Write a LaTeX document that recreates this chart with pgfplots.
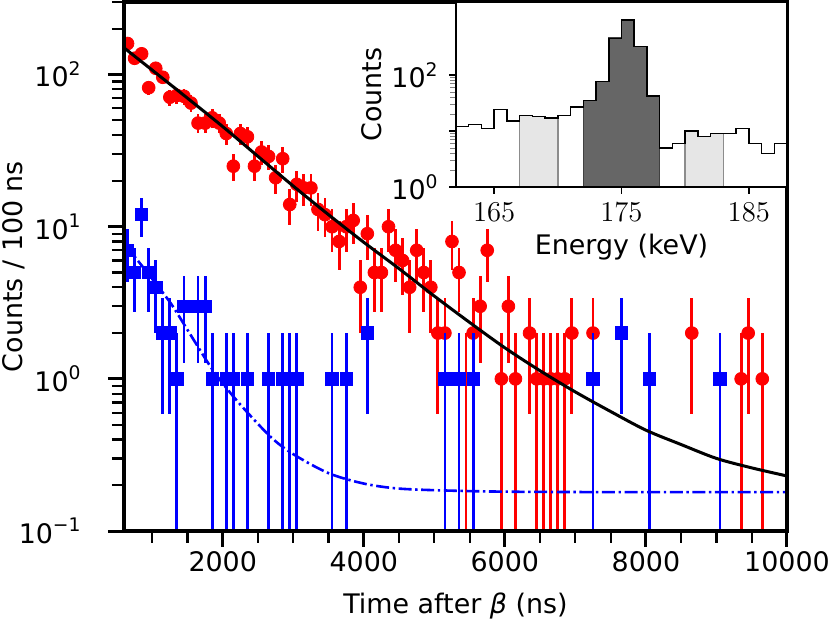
\documentclass[border=0pt]{standalone}
\usepackage{fontspec}
\setmainfont{DejaVu Sans}
\usepackage{pgfplots}
\pgfplotsset{compat=1.18}
\newcommand{\tp}[1]{10\raisebox{0.42em}{\fontsize{9.4}{10}\selectfont #1}}
\newcommand{\lf}{\fontsize{13.5}{16}\selectfont}
\definecolor{lightfill}{HTML}{E6E6E6}
\definecolor{lightedge}{HTML}{8C8C8C}
\definecolor{darkfill}{HTML}{666666}
\definecolor{darkedge}{HTML}{404040}
\begin{document}
\lf
\begin{tikzpicture}
\begin{axis}[
  at={(0,0)}, anchor=south west,
  scale only axis, width=331.5bp, height=264.5bp,
  xmin=600, xmax=10000, ymode=log, ymin=0.1, ymax=300,
  axis line style={line width=1.6bp},
  axis on top, clip marker paths=true,
  scaled x ticks=false,
  xtick={2000,4000,6000,8000,10000},
  xticklabels={2000,4000,6000,8000,10000},
  minor xtick={1000,1500,2500,3000,3500,4500,5000,5500,6500,7000,7500,8500,9000,9500},
  ytick={0.1,1,10,100},
  yticklabels={\tp{−1},\tp{0},\tp{1},\tp{2}},
  minor ytick={0.2,0.3,0.4,0.5,0.6,0.7,0.8,0.9,2,3,4,5,6,7,8,9,20,30,40,50,60,70,80,90,200,300},
  xtick pos=bottom, ytick pos=left,
  tick align=outside,
  major tick length=8bp, minor tick length=6bp,
  every major tick/.style={line width=1.5bp, black},
  every minor tick/.style={line width=1.1bp, black},
  tick label style={font=\lf},
  xticklabel style={anchor=north, inner sep=0pt, yshift=-2bp},
  yticklabel style={anchor=east, inner sep=0pt, xshift=-13.5bp},
]
% red data
\addplot[red, only marks, mark=*, mark size=3.2bp, mark options={fill=red, draw=red},
  error bars/.cd, y dir=both, y explicit, error mark=none,
  error bar style={line width=1.4bp, red}]
table[x=x, y=y, y error plus=ep, y error minus=em] {
x y ep em
650 160 12.65 12.65
750 128 11.31 11.31
850 137 11.70 11.70
950 82 9.06 9.06
1050 110 10.49 10.49
1150 96 9.80 9.80
1250 71 8.43 8.43
1350 73 8.54 8.54
1450 72 8.49 8.49
1550 65 8.06 8.06
1650 48 6.93 6.93
1750 48 6.93 6.93
1850 52 7.21 7.21
1950 48 6.93 6.93
2050 41 6.40 6.40
2150 25 5.00 5.00
2250 41 6.40 6.40
2350 39 6.24 6.24
2450 25 5.00 5.00
2550 31 5.57 5.57
2650 29 5.39 5.39
2750 21 4.58 4.58
2850 28 5.29 5.29
2950 14 3.74 3.74
3050 19 4.36 4.36
3150 18 4.24 4.24
3250 18 4.24 4.24
3350 13 3.61 3.61
3450 12 3.46 3.46
3550 10 3.16 3.16
3650 8 2.83 2.83
3750 10 3.16 3.16
3850 11 3.32 3.32
3950 4 2.00 2.00
4050 9 3.00 3.00
4150 5 2.24 2.24
4250 5 2.24 2.24
4350 10 3.16 3.16
4450 7 2.65 2.65
4550 6 2.45 2.45
4650 4 2.00 2.00
4750 7 2.65 2.65
4850 5 2.24 2.24
4950 4 2.00 2.00
5050 2 1.41 1.41
5150 2 1.41 1.41
5250 8 2.83 2.83
5350 5 2.24 2.24
5450 1 1.00 0.999
5550 2 1.41 1.41
5650 3 1.73 1.73
5750 7 2.65 2.65
5950 1 1.00 0.999
6050 3 1.73 1.73
6150 1 1.00 0.999
6350 2 1.41 1.41
6450 1 1.00 0.999
6550 1 1.00 0.999
6650 1 1.00 0.999
6750 1 1.00 0.999
6850 1 1.00 0.999
6950 2 1.41 1.41
7250 2 1.41 1.41
8650 2 1.41 1.41
9350 1 1.00 0.999
9450 2 1.41 1.41
9650 1 1.00 0.999
};
% blue data
\addplot[blue, only marks, mark=square*, mark size=3.1bp, mark options={fill=blue, draw=blue},
  error bars/.cd, y dir=both, y explicit, error mark=none,
  error bar style={line width=1.4bp, blue}]
table[x=x, y=y, y error plus=ep, y error minus=em] {
x y ep em
650 7 2.65 2.65
750 5 2.24 2.24
850 12 3.46 3.46
950 5 2.24 2.24
1050 4 2.00 2.00
1150 2 1.41 1.41
1250 2 1.41 1.41
1350 1 1.00 0.999
1450 3 1.73 1.73
1650 3 1.73 1.73
1750 3 1.73 1.73
1850 1 1.00 0.999
2050 1 1.00 0.999
2150 1 1.00 0.999
2350 1 1.00 0.999
2650 1 1.00 0.999
2850 1 1.00 0.999
2950 1 1.00 0.999
3050 1 1.00 0.999
3550 1 1.00 0.999
3750 1 1.00 0.999
4050 2 1.41 1.41
5150 1 1.00 0.999
5350 1 1.00 0.999
5550 1 1.00 0.999
7250 1 1.00 0.999
7650 2 1.41 1.41
8050 1 1.00 0.999
9050 1 1.00 0.999
};
% black fit
\addplot[black, line width=1.5bp, smooth] coordinates {
(600,150) (1000,107) (1500,70) (2000,45.5) (2500,29) (3000,18.5) (3500,12.0) (4000,7.9)
(4500,5.3) (5000,3.5) (5500,2.35) (6000,1.6) (6500,1.13) (7000,0.82) (7500,0.61)
(8000,0.46) (8500,0.37) (9000,0.30) (9500,0.26) (10000,0.23)};
% blue fit
\addplot[blue, line width=1.3bp, smooth, dash pattern=on 6.5bp off 1.8bp on 1.2bp off 1.8bp] coordinates {
(600,7.8) (900,5.2) (1250,3.2) (1500,2.1) (1866,1.13) (2200,0.72) (2669,0.42) (3000,0.32)
(3500,0.24) (4000,0.205) (4500,0.19) (5268,0.184) (6213,0.181) (8000,0.18) (10000,0.18)};
\end{axis}
% inset
\begin{axis}[
  at={(166bp,172bp)}, anchor=south west,
  scale only axis, width=165.5bp, height=92.5bp,
  xmin=162, xmax=188, ymode=log, ymin=1, ymax=2000,
  axis background/.style={fill=white},
  axis line style={line width=1.4bp},
  axis on top,
  xtick={165,175,185}, minor xtick={},
  ytick={1,10,100}, yticklabels={\tp{0},,\tp{2}}, minor ytick={},
  xtick pos=bottom, ytick pos=left,
  tick align=outside,
  major tick length=3.5bp,
  every major tick/.style={line width=0.8bp, black},
  tick label style={font=\lf},
  xticklabel style={anchor=north, inner sep=0pt, yshift=-4.5bp},
  yticklabel style={anchor=east, inner sep=0pt, xshift=-5.5bp},
]
\addplot[const plot, fill=lightfill, draw=lightedge, line width=0.8bp] coordinates {
(167,0.5) (167,19) (168,18) (169,17) (170,17) (170,0.5)};
\addplot[const plot, fill=darkfill, draw=darkedge, line width=0.8bp] coordinates {
(172,0.5) (172,35) (173,76) (174,450) (175,950) (176,320) (177,42) (178,42) (178,0.5)};
\addplot[const plot, fill=lightfill, draw=lightedge, line width=0.8bp] coordinates {
(180,0.5) (180,10) (181,8) (182,9) (183,9) (183,0.5)};
\addplot[const plot, black, line width=0.75bp] coordinates {
(162,12) (163,13) (164,11) (165,24) (166,15) (167,19) (168,18) (169,17) (170,19) (171,27)
(172,35) (173,76) (174,450) (175,950) (176,320) (177,42) (178,5) (179,6) (180,10) (181,8)
(182,9) (183,9) (184,11) (185,6) (186,4) (187,6) (188,6)};
\end{axis}
% labels
\node[rotate=90, anchor=base, font=\lf] at (-50.5bp,132.25bp) {Counts / 100 ns};
\node[anchor=base, font=\lf] at (165.75bp,-41bp) {Time after {\itshape β} (ns)};
\node[rotate=90, anchor=base, font=\lf] at (128.75bp,218.25bp) {Counts};
\node[anchor=base, font=\lf] at (248.75bp,138bp) {Energy (keV)};
\pgfresetboundingbox
\path[use as bounding box] (-62bp,-44bp) rectangle (353bp,265.5bp);
\end{tikzpicture}
\end{document}
